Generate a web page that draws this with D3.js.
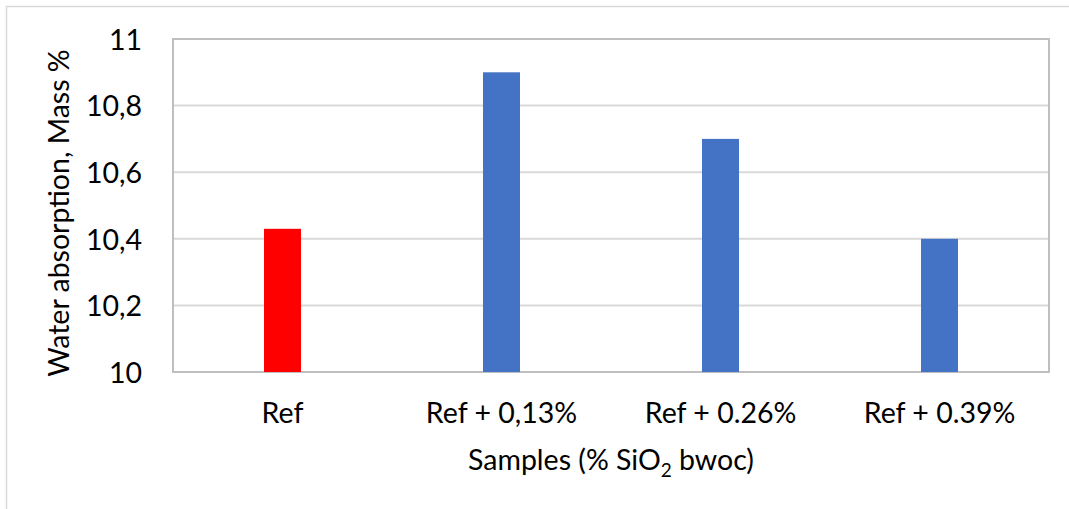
<!DOCTYPE html>
<html>
<head>
<meta charset="utf-8">
<script src="https://cdn.jsdelivr.net/npm/d3@7"></script>
<style>
  html, body { margin: 0; padding: 0; background: #fff; }
  svg { display: block; }
  text { font-family: Lato, "Open Sans", sans-serif; fill: #000; }
</style>
</head>
<body>
<svg id="chart" width="1069" height="509"></svg>
<script>
// Water absorption by sample
const categories = ["Ref", "Ref + 0,13%", "Ref + 0.26%", "Ref + 0.39%"];
const absorption = [10.43, 10.9, 10.7, 10.4];
const barColors = ["#FF0000", "#4472C4", "#4472C4", "#4472C4"];
const yTicks = [10, 10.2, 10.4, 10.6, 10.8, 11];
const yTickLabels = ["10", "10,2", "10,4", "10,6", "10,8", "11"];

const W = 1069, H = 509;
const plot = { left: 173, right: 1049, top: 39, bottom: 372 };
const FS = "28.5px";

const svg = d3.select("#chart");

// chart frame (left and top edges are visible)
svg.append("line").attr("x1", 6.5).attr("x2", 6.5).attr("y1", 6).attr("y2", H)
  .attr("stroke", "#d9d9d9").attr("stroke-width", 1.5);
svg.append("line").attr("x1", 6).attr("x2", W).attr("y1", 6.5).attr("y2", 6.5)
  .attr("stroke", "#d9d9d9").attr("stroke-width", 1.5);

const x = d3.scaleBand().domain(categories).range([plot.left, plot.right]).paddingInner(0.831).paddingOuter(0.4155);
const y = d3.scaleLinear().domain([10, 11]).range([plot.bottom, plot.top]);

// horizontal gridlines
svg.append("g")
  .selectAll("line")
  .data(yTicks)
  .join("line")
  .attr("x1", plot.left).attr("x2", plot.right)
  .attr("y1", d => y(d)).attr("y2", d => y(d))
  .attr("stroke", "#d9d9d9").attr("stroke-width", 2);

// plot area border
svg.append("rect")
  .attr("x", plot.left).attr("y", plot.top)
  .attr("width", plot.right - plot.left).attr("height", plot.bottom - plot.top)
  .attr("fill", "none").attr("stroke", "#bfbfbf").attr("stroke-width", 2);

// bars
svg.append("g")
  .selectAll("rect")
  .data(categories)
  .join("rect")
  .attr("x", d => x(d))
  .attr("width", x.bandwidth())
  .attr("y", (d, i) => y(absorption[i]))
  .attr("height", (d, i) => y(10) - y(absorption[i]))
  .attr("fill", (d, i) => barColors[i]);

// y axis tick labels
const yAxis = d3.axisLeft(y).tickValues(yTicks)
  .tickFormat((d, i) => yTickLabels[i]).tickSize(0).tickPadding(31);
const gy = svg.append("g").attr("transform", `translate(${plot.left},0)`).call(yAxis);
gy.select(".domain").remove();
gy.selectAll("text").style("font-size", FS).style("font-family", "Lato, sans-serif").attr("dy", "0.36em");

// x axis category labels
const xAxis = d3.axisBottom(x).tickSize(0).tickPadding(0);
const gx = svg.append("g").attr("transform", `translate(0,${plot.bottom})`).call(xAxis);
gx.select(".domain").remove();
gx.selectAll("text").style("font-size", FS).style("font-family", "Lato, sans-serif")
  .attr("dy", null).attr("y", 51);

// axis titles
const xt = svg.append("text")
  .attr("x", (plot.left + plot.right) / 2).attr("y", 470)
  .attr("text-anchor", "middle").style("font-size", FS);
xt.append("tspan").text("Samples (% SiO");
xt.append("tspan").text("2").style("font-size", "19px").attr("dy", 7);
xt.append("tspan").text(" bwoc)").attr("dy", -7);

svg.append("text")
  .attr("transform", "translate(69,213) rotate(-90)")
  .attr("text-anchor", "middle").style("font-size", FS)
  .text("Water absorption, Mass %");
</script>
</body>
</html>
